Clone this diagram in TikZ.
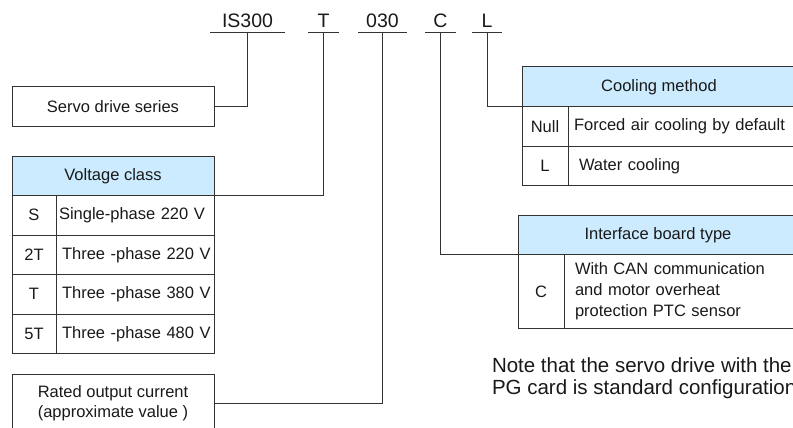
\documentclass[tikz,border=0pt]{standalone}
\usepackage{fontspec}
\setmainfont{Liberation Sans}
\usetikzlibrary{positioning}

\definecolor{headblue}{HTML}{CCEBFF}
\definecolor{rulegray}{HTML}{333333}

\tikzset{
  line/.style={draw=rulegray, line width=1pt},
  code/.style={inner xsep=0pt, inner ysep=4.5pt, text depth=0pt, anchor=south,
    font=\fontsize{19.5}{22}\selectfont},
  hdr/.style={line, fill=headblue, minimum height=39.5, anchor=north west, inner sep=0pt},
  keycell/.style={line, minimum width=#1, minimum height=39.5, anchor=north west, inner sep=0pt},
  desccell/.style={line, text width=#1, minimum height=39.5, inner xsep=2pt, align=left,
    anchor=north west},
  plainbox/.style={line, minimum width=202, anchor=north west, align=center}
}

\begin{document}
\begin{tikzpicture}[x=1pt, y=-1pt,
  every node/.style={font=\fontsize{16.5}{20.5}\selectfont, text=black!90, outer sep=0pt}]
  \useasboundingbox (0,0) rectangle (793,428);
  \clip (0,0) rectangle (793,428);

  % model code
  \node[code, minimum width=75] (is300) at (247.5,32.5) {IS300};
  \node[code, minimum width=31] (codeT) at (323.5,32.5) {T};
  \node[code, minimum width=49] (code030) at (382.5,32.5) {030};
  \node[code, minimum width=31] (codeC) at (440.5,32.5) {C};
  \node[code, minimum width=30] (codeL) at (487,32.5) {L};
  \foreach \c in {is300,codeT,code030,codeC,codeL}
    \draw[line] (\c.south west) -- (\c.south east);

  % series
  \node[plainbox, minimum height=39] (series) at (12,87) {Servo drive series};

  % voltage class
  \node[hdr, minimum width=202] (volt) at (12,156) {Voltage class};
  \node[keycell=44, below=0pt of volt.south west, anchor=north west] (vS) {S};
  \node[desccell=154, right=0pt of vS.north east, anchor=north west] (vSd) {\hspace*{1pt}Single-phase 220 V};
  \node[keycell=44, below=0pt of vS.south west, anchor=north west] (v2T) {2T};
  \node[desccell=154, right=0pt of v2T.north east, anchor=north west] (v2Td) {\hspace*{4pt}Three -phase 220 V};
  \node[keycell=44, below=0pt of v2T.south west, anchor=north west] (vT) {T};
  \node[desccell=154, right=0pt of vT.north east, anchor=north west] (vTd) {\hspace*{4pt}Three -phase 380 V};
  \node[keycell=44, below=0pt of vT.south west, anchor=north west] (v5T) {5T};
  \node[desccell=154, right=0pt of v5T.north east, anchor=north west] (v5Td) {\hspace*{4pt}Three -phase 480 V};

  % rated current
  \node[plainbox, minimum height=58] (rated) at (12,374) {Rated output current\\(approximate value )};

  % cooling method
  \node[hdr, minimum width=274] (cool) at (522,67) {Cooling method};
  \node[keycell=46, below=0pt of cool.south west, anchor=north west] (cNull) {Null};
  \node[desccell=224, right=0pt of cNull.north east, anchor=north west] (cNulld) {\hspace*{4pt}Forced air cooling by default};
  \node[keycell=46, below=0pt of cNull.south west, anchor=north west] (cL) {L};
  \node[desccell=224, right=0pt of cL.north east, anchor=north west] (cLd) {\hspace*{9pt}Water cooling};

  % interface board
  \node[hdr, minimum width=280] (iface) at (518,215) {Interface board type};
  \node[keycell=46, minimum height=74, below=0pt of iface.south west, anchor=north west] (iC) {C};
  \node[desccell=230, minimum height=74, right=0pt of iC.north east, anchor=north west,
    font=\fontsize{16.5}{21}\selectfont] (iCd) {\hspace*{9pt}With CAN communication\\\hspace*{9pt}and motor overheat\\\hspace*{9pt}protection PTC sensor};

  % note
  \node[anchor=north west, inner sep=0pt, align=left, font=\fontsize{20.5}{22}\selectfont]
    (note) at (492,358) {Note that the servo drive with the\\PG card is standard configuration};

  % connectors
  \draw[line] (is300.south) |- (series.east);
  \draw[line] (codeT.south) |- (volt.south east);
  \draw[line] (code030.south) |- (rated.east);
  \draw[line] (codeC.south) |- (iface.south west);
  \draw[line] (codeL.south) |- (cool.south west);
\end{tikzpicture}
\end{document}
